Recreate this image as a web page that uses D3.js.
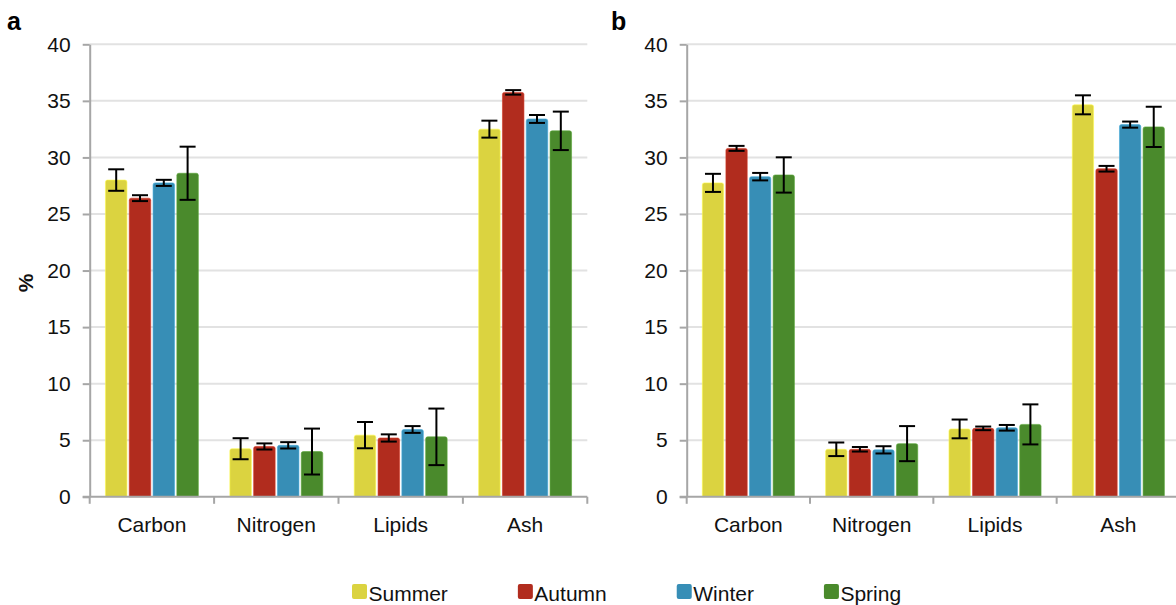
<!DOCTYPE html>
<html>
<head>
<meta charset="utf-8">
<script src="https://cdn.jsdelivr.net/npm/d3@7"></script>
<style>
  html, body { margin: 0; padding: 0; background: #fff; }
  svg { display: block; font-family: "Liberation Sans", Arial, Helvetica, sans-serif; }
</style>
</head>
<body>
<svg id="chart" width="1176" height="605"></svg>
<script>
// Composition categories and seasons
const categories = ["Carbon", "Nitrogen", "Lipids", "Ash"];
const seasons = ["Summer", "Autumn", "Winter", "Spring"];
const seasonColors = ["#DBD340", "#B12C1E", "#378EB6", "#4A8A2C"];
const yTicks = [0, 5, 10, 15, 20, 25, 30, 35, 40];

// Panel a: means (%) and error (±) per season, in category order
const summerA = [28.0, 4.25, 5.45, 32.5];
const summerAErr = [0.95, 0.93, 1.16, 0.75];
const autumnA = [26.4, 4.45, 5.2, 35.75];
const autumnAErr = [0.26, 0.27, 0.32, 0.2];
const winterA = [27.75, 4.55, 5.95, 33.4];
const winterAErr = [0.27, 0.28, 0.3, 0.35];
const springA = [28.6, 4.0, 5.3, 32.35];
const springAErr = [2.35, 2.03, 2.5, 1.7];

// Panel b
const summerB = [27.75, 4.2, 6.0, 34.65];
const summerBErr = [0.8, 0.6, 0.83, 0.84];
const autumnB = [30.8, 4.2, 6.05, 29.0];
const autumnBErr = [0.22, 0.2, 0.16, 0.25];
const winterB = [28.3, 4.15, 6.1, 32.9];
const winterBErr = [0.33, 0.32, 0.25, 0.27];
const springB = [28.45, 4.7, 6.4, 32.7];
const springBErr = [1.56, 1.55, 1.77, 1.78];

const panels = [
  { label: "a", x0: 89.7, x1: 587.3, labelX: 7, showYTitle: true,
    values: [summerA, autumnA, winterA, springA],
    errors: [summerAErr, autumnAErr, winterAErr, springAErr] },
  { label: "b", x0: 686.7, x1: 1180, labelX: 611, showYTitle: false,
    values: [summerB, autumnB, winterB, springB],
    errors: [summerBErr, autumnBErr, winterBErr, springBErr] }
];

const svg = d3.select("#chart");
const yTop = 44.3, yBottom = 496.8;
const y = d3.scaleLinear().domain([0, 40]).range([yBottom, yTop]);
const FONT = 21;

panels.forEach(p => {
  const g = svg.append("g");
  const x0 = d3.scaleBand().domain(categories).range([p.x0, p.x1]).paddingInner(0).paddingOuter(0);
  const outerPad = 15.75 * (x0.bandwidth() / 124.4);
  const x1 = d3.scaleBand().domain(seasons)
    .range([outerPad, x0.bandwidth() - outerPad]).paddingInner(0.097).paddingOuter(0);

  // gridlines
  g.append("g").selectAll("line").data(yTicks.filter(t => t > 0)).join("line")
    .attr("x1", p.x0).attr("x2", p.x1)
    .attr("y1", d => y(d)).attr("y2", d => y(d))
    .attr("stroke", "#E2E2E2").attr("stroke-width", 2);

  // bars
  const rows = [];
  categories.forEach((c, ci) => {
    seasons.forEach((s, si) => {
      rows.push({ cat: c, season: s, si, v: p.values[si][ci], e: p.errors[si][ci] });
    });
  });

  const bars = g.append("g").selectAll("g").data(rows).join("g")
    .attr("transform", d => `translate(${x0(d.cat) + x1(d.season)},0)`);

  bars.append("path")
    .attr("d", d => {
      const w = x1.bandwidth(), top = y(d.v), bot = y(0), r = 2;
      return `M0,${bot}V${top + r}Q0,${top} ${r},${top}H${w - r}Q${w},${top} ${w},${top + r}V${bot}Z`;
    })
    .attr("fill", d => seasonColors[d.si])
    .attr("stroke", d => d3.color(seasonColors[d.si]).brighter(0.5))
    .attr("stroke-width", 0.6);

  // error bars
  const cap = 8;
  const eb = bars.append("g").attr("stroke", "#000").attr("stroke-width", 2);
  eb.append("line")
    .attr("x1", x1.bandwidth() / 2).attr("x2", x1.bandwidth() / 2)
    .attr("y1", d => y(d.v + d.e)).attr("y2", d => y(d.v - d.e));
  eb.append("line")
    .attr("x1", x1.bandwidth() / 2 - cap).attr("x2", x1.bandwidth() / 2 + cap)
    .attr("y1", d => y(d.v + d.e)).attr("y2", d => y(d.v + d.e));
  eb.append("line")
    .attr("x1", x1.bandwidth() / 2 - cap).attr("x2", x1.bandwidth() / 2 + cap)
    .attr("y1", d => y(d.v - d.e)).attr("y2", d => y(d.v - d.e));

  // y axis
  const yAxis = g.append("g").attr("transform", `translate(${p.x0},0)`)
    .call(d3.axisLeft(y).tickValues(yTicks).tickSize(7).tickPadding(12).tickSizeOuter(0));
  yAxis.select(".domain").attr("stroke", "#A6A6A6").attr("stroke-width", 2);
  yAxis.selectAll(".tick line").attr("stroke", "#A6A6A6").attr("stroke-width", 2);
  yAxis.selectAll(".tick text").attr("font-size", FONT).attr("fill", "#111")
    .attr("font-family", "'Liberation Sans', Arial, sans-serif");

  // x axis: line along zero, ticks at category boundaries
  const xg = g.append("g");
  xg.append("line").attr("x1", p.x0 - 7).attr("x2", p.x1)
    .attr("y1", y(0)).attr("y2", y(0))
    .attr("stroke", "#A6A6A6").attr("stroke-width", 2);
  const bounds = categories.map(c => x0(c)).concat([x0(categories[categories.length - 1]) + x0.bandwidth()]);
  xg.selectAll("line.tk").data(bounds).join("line").attr("class", "tk")
    .attr("x1", d => d).attr("x2", d => d)
    .attr("y1", y(0)).attr("y2", y(0) + 7)
    .attr("stroke", "#A6A6A6").attr("stroke-width", 2);
  xg.selectAll("text").data(categories).join("text")
    .attr("x", d => x0(d) + x0.bandwidth() / 2)
    .attr("y", y(0) + 35)
    .attr("text-anchor", "middle")
    .attr("font-size", FONT).attr("fill", "#111")
    .text(d => d);

  // panel letter
  svg.append("text").attr("x", p.labelX).attr("y", 29.5)
    .attr("font-size", 25).attr("font-weight", "bold").attr("fill", "#000")
    .text(p.label);

  if (p.showYTitle) {
    svg.append("text")
      .attr("transform", `translate(33,${283}) rotate(-90)`)
      .attr("text-anchor", "middle")
      .attr("font-size", FONT).attr("font-weight", "bold").attr("fill", "#111")
      .text("%");
  }
});

// legend
const legend = svg.append("g");
let lx = 352;
seasons.forEach((s, i) => {
  const item = legend.append("g").attr("transform", `translate(${lx},0)`);
  item.append("rect").attr("x", 0).attr("y", 584).attr("width", 15).attr("height", 15)
    .attr("rx", 2).attr("fill", seasonColors[i]);
  const t = item.append("text").attr("x", 16.5).attr("y", 600.5)
    .attr("font-size", FONT).attr("fill", "#111").text(s);
  lx += 16.5 + t.node().getComputedTextLength() + 70;
});
</script>
</body>
</html>
